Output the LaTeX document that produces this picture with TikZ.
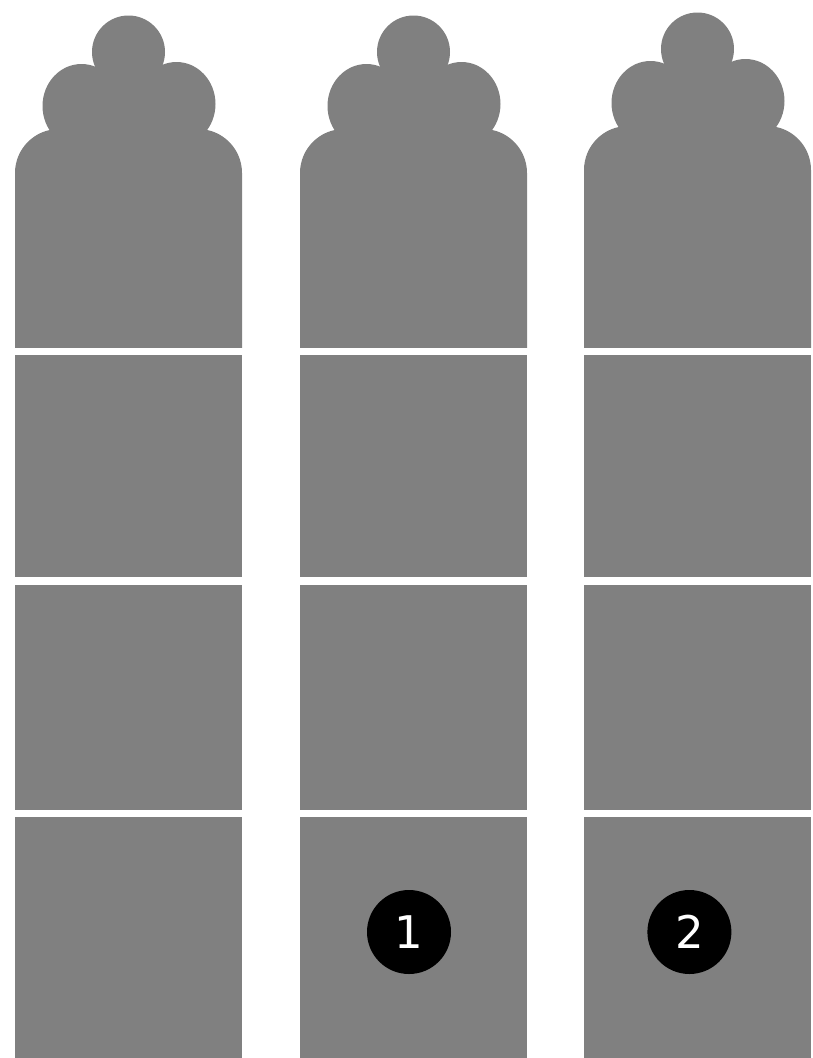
\documentclass[tikz,border=0pt]{standalone}
\usepackage{fontspec}
\setsansfont{DejaVu Sans}
\usepackage{tikz}
\usetikzlibrary{positioning}
\definecolor{panel}{HTML}{808080}
\definecolor{badgeink}{HTML}{000000}

\begin{document}
\begin{tikzpicture}[x=1pt, y=-1pt,
  panel/.style={fill=panel},
  badge/.style={circle, fill=badgeink, text=white, minimum size=84pt, inner sep=0pt, font=\sffamily\fontsize{45}{45}\selectfont},
]
\useasboundingbox[fill=white] (0,0) rectangle (813,1058);
% three columns: top crown, then three blocks
\foreach \xl/\dy in {15/0, 300/0, 584/-3} {
  \pgfmathsetmacro{\xr}{\xl+227}
  \pgfmathsetmacro{\xm}{\xl+113.5}
  \begin{scope}
    \clip (\xl-5,0) rectangle (\xr+5,347);
    \fill[panel, rounded corners=44pt] (\xl,129+\dy) rectangle (\xr,420);
  \end{scope}
  \fill[panel] (\xm-47,106+\dy) ellipse[x radius=39pt, y radius=42pt];
  \fill[panel] (\xm+48,104+\dy) ellipse[x radius=39pt, y radius=42pt];
  \fill[panel] (\xm,52+\dy) circle[radius=36.5pt];
  \fill[panel] (\xm-47,106+\dy) -- (\xm,52+\dy) -- (\xm+48,104+\dy) -- (\xm+48,140) -- (\xm-47,140) -- cycle;
  \fill[panel] (\xl,355) rectangle (\xr,577);
  \fill[panel] (\xl,585) rectangle (\xr,810);
  \fill[panel] (\xl,817) rectangle (\xr,1058);
}
\node[badge] (one) at (409,932) {1};
\node[badge, right=196pt of one] (two) {2};
\end{tikzpicture}
\end{document}
